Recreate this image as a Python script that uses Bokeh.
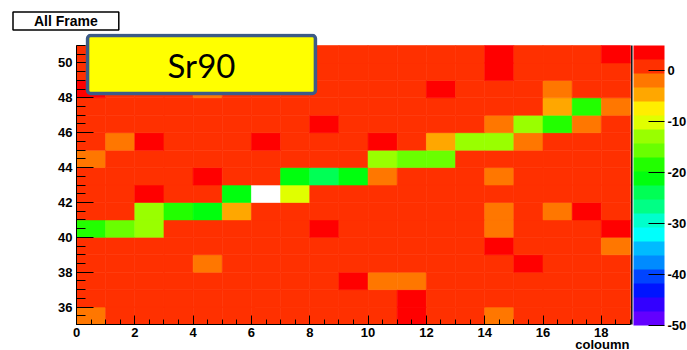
from bokeh.plotting import figure
from bokeh.models import (LinearColorMapper, ColorBar, FixedTicker, SingleIntervalTicker,
                          Label, BoxAnnotation, ColumnDataSource, PrintfTickFormatter)
from bokeh.transform import transform
from bokeh.embed import file_html
from bokeh.resources import INLINE

# ---------------- data ----------------
columns = list(range(19))          # coloumn bins 0..18
rows = list(range(35, 51))         # row bins 35..50

row_35 = [-2, 1, 1, 1, 1, 1, 1, 1, 1, 1, 1, 3.5, 1, 1, -2, 1, 1, 1, 1]
row_36 = [1, 1, 1, 1, 1, 1, 1, 1, 1, 1, 1, 3.5, 1, 1, 1, 1, 1, 1, 1]
row_37 = [1, 1, 1, 1, 1, 1, 1, 1, 1, 3.5, -2, -2, 1, 1, 1, 1, 1, 1, 1]
row_38 = [1, 1, 1, 1, -2, 1, 1, 1, 1, 1, 1, 1, 1, 1, 1, 3.5, 1, 1, 1]
row_39 = [1, 1, 1, 1, 1, 1, 1, 1, 1, 1, 1, 1, 1, 1, 3.5, 1, 1, 1, -2]
row_40 = [-18.5, -15.5, -13, 1, 1, 1, 1, 1, 3.5, 1, 1, 1, 1, 1, -2, 1, 1, 1, 3.5]
row_41 = [1, 1, -13, -18.5, -21, -4.5, 1, 1, 1, 1, 1, 1, 1, 1, -2, 1, -2, 3.5, 1]
row_42 = [1, 1, 3.5, 1, 1, -21, -57, -10, 1, 1, 1, 1, 1, 1, 1, 1, 1, 1, 1]
row_43 = [1, 1, 1, 1, 3.5, 1, 1, -21, -24, -21, -2, 1, 1, 1, -2, 1, 1, 1, 1]
row_44 = [-2, 1, 1, 1, 1, 1, 1, 1, 1, 1, -13, -15.5, -15.5, 1, 1, 1, 1, 1, 1]
row_45 = [1, -2, 3.5, 1, 1, 1, 3.5, 1, 1, 1, 3.5, 1, -4.5, -13, -13, -2, 1, 1, 1]
row_46 = [1, 1, 1, 1, 1, 1, 1, 1, 3.5, 1, 1, 1, 1, 1, -2, -13, -18.5, -2, 1]
row_47 = [1, 1, 1, 1, 1, 1, 1, 1, 1, 1, 1, 1, 1, 1, 1, 1, -4.5, -18.5, -2]
row_48 = [3.5, 1, 1, 1, -2, 1, 1, 1, 1, 1, 1, 1, 3.5, 1, 1, 1, -2, 1, 1]
row_49 = [1, 1, 1, 1, 1, 1, 1, 1, 1, 1, 1, 1, 1, 1, 3.5, 1, 1, 1, 1]
row_50 = [1, 1, 1, 1, 1, 1, 1, 1, 1, 1, 1, 1, 1, 1, 3.5, 1, 1, 1, 3.5]

grid = [row_35, row_36, row_37, row_38, row_39, row_40, row_41, row_42,
        row_43, row_44, row_45, row_46, row_47, row_48, row_49, row_50]

x_min, x_max = 0, 19
y_min, y_max = 35, 51
z_low, z_high = -50, 5
z_ticks = [-50, -40, -30, -20, -10, 0]
x_label = "coloumn"
title_text = "All Frame"
tag_text = "Sr90"

# ROOT "pretty" palette, 20 contour levels (low -> high)
palette = ["#6300FF", "#3300FF", "#0014FF", "#0044FF", "#008BFF", "#00BBFF",
           "#00FFFC", "#00FFCC", "#00FF85", "#00FF55", "#00FF0E", "#22FF00",
           "#69FF00", "#99FF00", "#E0FF00", "#FFEE00", "#FFA700", "#FF7700",
           "#FF3000", "#FF0000"]

# ---------------- layout (canvas pixels) ----------------
PX_L, PX_R = 76, 630        # heatmap left/right edge
PY_T, PY_B = 45, 324        # heatmap top/bottom edge
FRAME_L = 30                # frame extends around the heatmap
FRAME_T = 33
FRAME_B = 350
FRAME_R = 687
ux = (PX_R - PX_L) / (x_max - x_min)
uy = (PY_B - PY_T) / (y_max - y_min)
xr = (x_min - (PX_L - FRAME_L) / ux, x_max + (FRAME_R - PX_R) / ux)
yr = (y_min - (FRAME_B - PY_B) / uy, y_max + (PY_T - FRAME_T) / uy)

# ---------------- build ----------------
xs, ys, vs = [], [], []
for r, vals in zip(rows, grid):
    for c, v in zip(columns, vals):
        xs.append(c + 0.5)
        ys.append(r + 0.5)
        vs.append(v)
src = ColumnDataSource(dict(x=xs, y=ys, v=vs))

mapper = LinearColorMapper(palette=palette, low=z_low, high=z_high, low_color="white")

p = figure(frame_width=FRAME_R - FRAME_L, frame_height=FRAME_B - FRAME_T,
           x_range=xr, y_range=yr,
           output_backend="svg", toolbar_location=None,
           min_border_left=FRAME_L, min_border_top=FRAME_T, min_border_bottom=0,
           min_border_right=0,
           background_fill_color="white", border_fill_color="white",
           outline_line_color=None)

p.rect(x="x", y="y", width=1, height=1, source=src,
       fill_color=transform("v", mapper), line_color=transform("v", mapper), line_width=0.6)

p.xgrid.visible = False
p.ygrid.visible = False

font = "Liberation Sans"
for ax, mj, mn in ((p.xaxis, 9, 5), (p.yaxis, 17, 9)):
    ax.ticker = SingleIntervalTicker(interval=2, num_minor_ticks=4)
    ax.major_tick_in = mj
    ax.major_tick_out = 0
    ax.minor_tick_in = mn
    ax.minor_tick_out = 0
    ax.axis_line_color = "black"
    ax.major_tick_line_color = "black"
    ax.minor_tick_line_color = "black"
    ax.major_label_text_font = font
    ax.major_label_text_font_style = "bold"
    ax.major_label_text_font_size = "13px"
    ax.major_label_text_color = "black"
p.xaxis.bounds = (x_min, x_max)
p.xaxis.fixed_location = y_min
p.yaxis.bounds = (y_min, y_max)
p.yaxis.fixed_location = x_min
p.xaxis.major_label_standoff = 3
p.yaxis.major_label_standoff = 4

# right edge line of the histogram frame
p.add_layout(BoxAnnotation(left=x_max + 0.02, right=x_max + 0.07, bottom=y_min, top=y_max,
                           fill_color="black", fill_alpha=1, line_color=None))

cb = ColorBar(color_mapper=mapper, ticker=FixedTicker(ticks=z_ticks),
              formatter=PrintfTickFormatter(format="%d"),
              location=(633 - FRAME_L, FRAME_B - 325),
              width=31, height=280, padding=0, margin=0, label_standoff=3,
              major_tick_in=16, major_tick_out=0, major_tick_line_color="black",
              minor_tick_line_color=None, bar_line_color=None, border_line_color=None,
              background_fill_color=None, background_fill_alpha=0,
              major_label_text_font=font, major_label_text_font_style="bold",
              major_label_text_font_size="13px", major_label_text_color="black")
p.add_layout(cb)

def sx(px):
    return px - FRAME_L

def sy(py):
    return FRAME_B - py

# "All Frame" title box (above the frame)
p.title.text = title_text
p.title.align = "left"
p.title.offset = 12.5 - FRAME_L
p.title.vertical_align = "middle"
p.title.standoff = 5
p.title.text_font = font
p.title.text_font_style = "bold"
p.title.text_font_size = "14px"
p.title.text_color = "black"
p.title.background_fill_color = "white"
p.title.border_line_color = "black"
p.title.border_line_width = 1.5
p.title.padding = (21, 1)

# "Sr90" tag box
p.add_layout(Label(x=sx(201), y=sy(64), x_units="screen", y_units="screen",
                   text=tag_text, text_align="center", text_baseline="middle",
                   text_font="Lato", text_font_size="33px", text_color="black",
                   background_fill_color="#FFFF00", border_line_color="#3D5B87",
                   border_line_width=3.5, border_radius=3, padding=(80, 9)))

# x axis title, right aligned
p.add_layout(Label(x=sx(629), y=sy(344), x_units="screen", y_units="screen",
                   text=x_label, text_align="right", text_baseline="alphabetic",
                   text_font=font, text_font_style="bold", text_font_size="13px",
                   text_color="black"))

open("out.html", "w").write(file_html(p, INLINE))
